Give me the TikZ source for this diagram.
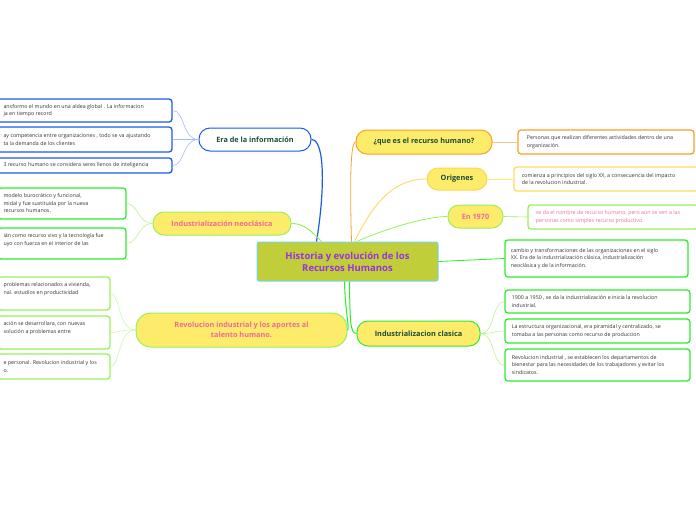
\documentclass[tikz,border=0pt]{standalone}
\usepackage{fontspec}
\usetikzlibrary{calc}
\setmainfont{Open Sans}
\begin{document}
\begin{tikzpicture}[x=1pt,y=-1pt,
  box/.style={draw,rounded corners=3pt,line width=1.3pt,minimum height=#1,inner sep=0pt},
  box/.default=23pt,
  lt/.style={anchor=west,align=left,font=\fontsize{5.3}{7.5}\selectfont,text=black!80},
  br/.style={rounded corners=11pt,line width=1pt,font=\bfseries\fontsize{7.3}{10}\selectfont},
  cn/.style={line width=0.6pt}]
\useasboundingbox (0,0) rectangle (696,520);
\definecolor{yel}{HTML}{FDEB6A}\definecolor{lg}{HTML}{98F05A}\definecolor{gr}{HTML}{2DEB2D}
\definecolor{pk}{HTML}{F06A9A}\definecolor{dg}{HTML}{1B4D3E}\definecolor{bl}{HTML}{1A5BE6}
\definecolor{or}{HTML}{F5A02A}\definecolor{pu}{HTML}{9B30E0}
% central
\node[draw=bl!40!cyan!60,fill={rgb,255:red,192;green,206;blue,58},line width=1pt,rounded corners=2pt,minimum width=181pt,minimum height=39pt,align=center,text=pu,font=\bfseries\fontsize{9.5}{12}\selectfont] (c) at (347.5,261.5) {Historia y evolución de los\\Recursos Humanos};
% branches
\node[br,draw=bl,fill=white,text=dg,minimum width=112pt,minimum height=23pt] (era) at (255,139.5) {Era de la información};
\node[br,draw=lg,fill=yel,text=pk,minimum width=138pt,minimum height=23pt] (neo) at (222,223.5) {Industrialización neoclásica};
\node[br,draw=lg,fill=yel,text=pk,minimum width=211pt,minimum height=34pt,rounded corners=15pt,align=center] (rev) at (241.5,330) {Revolucion industrial y los aportes al\\talento humano.};
\node[br,draw=or,fill=yel,text=dg,minimum width=136pt,minimum height=24pt] (que) at (424,142) {¿que es el recurso humano?};
\node[br,draw=yel!80!orange,fill=yel,text=dg,minimum width=60pt,minimum height=22pt] (ori) at (457,179) {Origenes};
\node[br,draw=lg,fill=yel,text=pk,minimum width=55pt,minimum height=23pt] (e70) at (475.5,216.5) {En 1970};
\node[br,draw=gr,fill=yel,text=dg,minimum width=123pt,minimum height=25pt] (icl) at (418.5,333.5) {Industrializacion clasica};
% central connectors
\coordinate (a1) at ($(c.north west)+(60,0)$);
\coordinate (a2) at ($(c.north west)+(65,0)$);
\coordinate (a3) at ($(c.south west)+(88,0)$);
\coordinate (a4) at ($(c.north west)+(95,0)$);
\coordinate (a5) at ($(c.north west)+(98,0)$);
\coordinate (a6) at ($(c.north west)+(100,0)$);
\coordinate (a7) at ($(c.south west)+(93,0)$);
\draw[bl,line width=1.2pt] (a1) .. controls (325,190) and (325,139.5) .. (era.east);
\draw[lg,line width=1pt] (neo.east) .. controls (305,223) and (315,235) .. (a2);
\draw[gr,line width=1pt] (a3) .. controls (345,310) and (350,330) .. (rev.east);
\draw[or,line width=0.8pt] (a4) .. controls (350,190) and (350,142) .. (que.west);
\draw[yel!80!orange,line width=0.8pt] (a5) .. controls (375,200) and (395,179) .. (ori.west);
\draw[lg,line width=0.8pt] (a6) .. controls (395,225) and (430,216.5) .. (e70.west);
\draw[gr,line width=1pt] (a7) .. controls (350,320) and (350,333.5) .. (icl.west);
% right leaves
\node[box=24pt,draw=or,minimum width=176pt] (q1) at (606,142) {};
\node[lt] at (q1.west) [xshift=6pt] {Personas que realizan diferentes actividades  dentro de una\\organización.};
\node[box=24pt,draw=yel!85!orange,minimum width=184pt] (o1) at (606,179) {};
\node[lt] at (o1.west) [xshift=5pt] {comienza a principios del siglo XX, a consecuencia del impacto\\de la revolucion industrial.};
\node[box=24pt,draw=lg,minimum width=170pt] (e1) at (613,217) {};
\node[lt,text=pk] at (e1.west) [xshift=5pt] {se da el nombre de recurso humano, pero aún se ven a las\\personas como simples recurso productivo.};
\node[box=37pt,draw=gr,minimum width=183pt] (cb) at (596.5,258.5) {};
\node[lt] at (cb.west) [xshift=3pt] {cambio y transformaciones de las organizaciones en el siglo\\XX. Era de la industrialización clásica, industrialización\\neoclásica y  de la información.};
\node[box=23pt,draw=gr,minimum width=185pt] (i1) at (597.5,301.5) {};
\node[lt] at (i1.west) [xshift=4pt] {1900 a 1950 , se da la industrialización e inicia la revolucion\\industrial.};
\node[box=24pt,draw=gr,minimum width=185pt] (i2) at (597.5,331) {};
\node[lt] at (i2.west) [xshift=4pt] {La estructura organizacional, era piramidal y centralizado, se\\tomaba a las personas como recurso de produccion};
\node[box=32pt,draw=gr,minimum width=185pt] (i3) at (597.5,365) {};
\node[lt] at (i3.west) [xshift=4pt] {Revolucion industrial , se establecen los  departamentos de\\bienestar para las necesidades de los trabajadores y evitar los\\sindicatos.};
\draw[or!60,cn] (que.east) -- (q1.west);
\draw[yel,cn] (ori.east) -- (o1.west);
\draw[lg,cn] (e70.east) -- (e1.west);
\draw[gr,line width=0.8pt] (c.east) -- (cb.west);
\foreach \n in {i1,i2,i3} \draw[lg!70,cn] (icl.east) .. controls (495,333.5) and (492,0|-\n.west) .. (\n.west);
% left leaves
\node[box=23pt,draw=bl,minimum width=176pt] (r1) at (84,110.5) {};
\node[lt] at (0,110.5) {ansformo el mundo en una aldea global . La informacion\\ja en tiempo record};
\node[box=25pt,draw=bl,minimum width=176pt] (r2) at (84,139.5) {};
\node[lt] at (0,139.5) {ay competencia entre organizaciones , todo se va ajustando\\ta la demanda de los clientes};
\node[box=15pt,draw=bl,minimum width=176pt] (r3) at (84,165.5) {};
\node[lt] at (0,165.5) {3  recurso humano se considera seres llenos de inteligencia};
\foreach \n in {r1,r2,r3} \draw[bl!40,cn] (era.west) .. controls (182,139.5) and (185,0|-\n.east) .. (\n.east);
\node[box=31pt,draw=gr,minimum width=128pt] (n1) at (62,203.5) {};
\node[lt] at (0,203.5) {modelo burocrático y funcional,\\midal y fue sustituida por la nueva\\recursos humanos.};
\node[box=31pt,draw=gr,minimum width=128pt] (n2) at (62,243.5) {};
\node[lt] at (0,240) {ián como recurso vivo  y la tecnología fue\\uyo con fuerza en el interior de  las};
\foreach \n in {n1,n2} \draw[lg!70,cn] (neo.west) .. controls (138,223.5) and (138,0|-\n.east) .. (\n.east);
\node[box=33pt,draw=lg,minimum width=112pt] (v1) at (54,293.5) {};
\node[lt] at (0,289) {problemas relacionados a vivienda,\\nal. estudios en productividad};
\node[box=33pt,draw=lg,minimum width=112pt] (v2) at (54,332.5) {};
\node[lt] at (0,328) {ación se desarrollara, con nuevas\\ solución a problemas entre};
\node[box=25pt,draw=lg,minimum width=112pt] (v3) at (54,366.5) {};
\node[lt] at (0,366.5) {e personal. Revolucion industrial y los\\o.};
\foreach \n in {v1,v2,v3} \draw[lg!50,cn] (rev.west) .. controls (118,330) and (120,0|-\n.east) .. (\n.east);
\end{tikzpicture}
\end{document}
